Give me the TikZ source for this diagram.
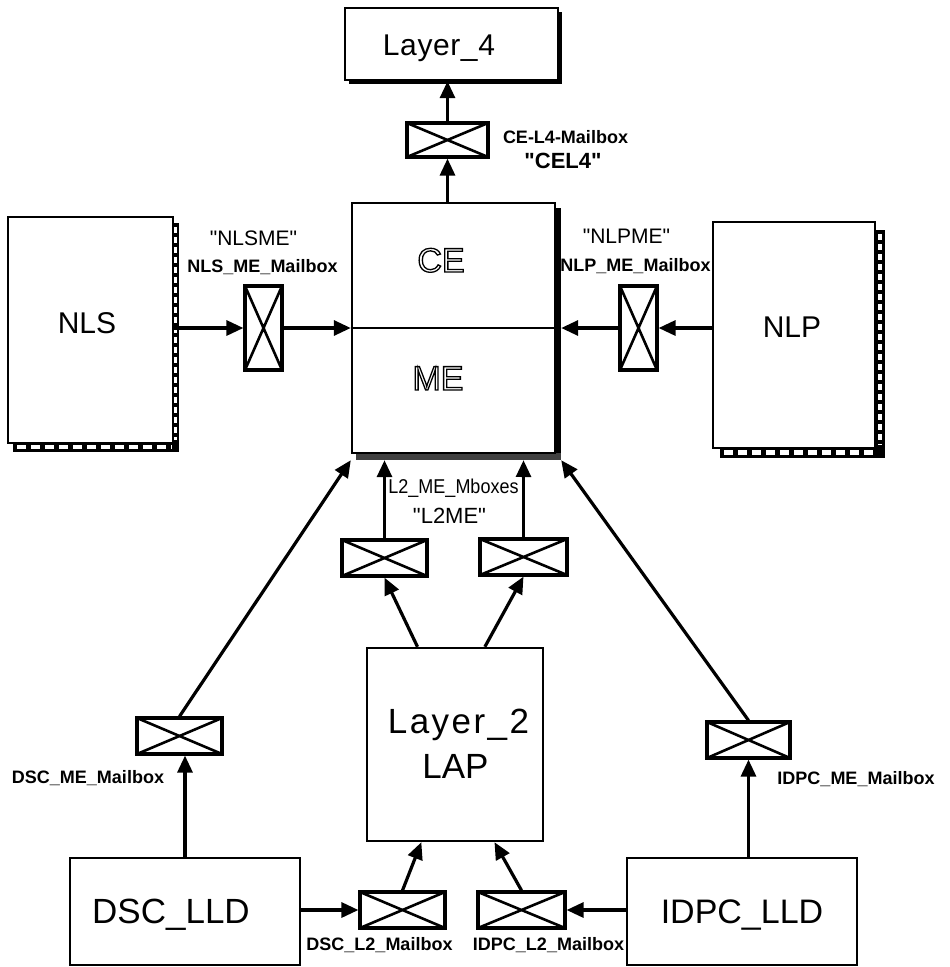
\documentclass[tikz,border=0pt]{standalone}
\usepackage{fontspec}
\setmainfont{Liberation Sans}[Ligatures=TeXOff]
\newfontfamily\lblfont{Liberation Sans}[Ligatures=TeXOff]
\newfontfamily\narrfont{Liberation Sans}[FakeStretch=0.9, Ligatures=TeXOff]
\newfontfamily\layfourfont{Liberation Sans}[LetterSpace=2]
\newfontfamily\laytwofont{Liberation Sans}[LetterSpace=7]
\usetikzlibrary{arrows.meta}
\tikzset{
  box/.style={draw, line width=2.4pt, fill=white, inner sep=0pt},
  mbox/.style={draw, line width=3.2pt, fill=white, inner sep=0pt,
    minimum width=85pt, minimum height=36pt,
    path picture={\draw[line width=2.6pt]
      (path picture bounding box.north west) -- (path picture bounding box.south east)
      (path picture bounding box.south west) -- (path picture bounding box.north east);}},
  vmbox/.style={mbox, minimum width=37pt, minimum height=84pt},
  arr/.style={line width=3.2pt, -{Triangle[length=17pt,width=15pt]}},
  bigtxt/.style={anchor=base, inner sep=0pt, font=\fontsize{32}{36}\selectfont},
  lbl/.style={anchor=base, inner sep=0pt, font=\lblfont\bfseries\fontsize{18}{20}\selectfont},
  quot/.style={anchor=base, inner sep=0pt, font=\fontsize{21}{24}\selectfont},
  shadowfill/.style={fill=black},
  hatch/.style={draw=white, line width=2.2pt, dash pattern=on 6pt off 4pt},
}
\newcommand{\outlined}[1]{\special{pdf:literal direct 2 Tr 1.3 w 1 g 0 G}#1\special{pdf:literal direct 0 Tr 0 g 0 G}}
\begin{document}
\begin{tikzpicture}[x=1pt,y=-1pt]
\useasboundingbox (0,0) rectangle (950,967);

% ---- shadows ----
\fill[shadowfill] (557,12) rectangle (562,84);
\fill[shadowfill] (349,79) rectangle (562,84);
\fill[shadowfill] (554,208) rectangle (561,460);
\node[fill=black!75, inner sep=0pt, minimum width=205pt, minimum height=7pt] (band) at (458.5,456.5) {};
% NLS hatched shadow
\fill[shadowfill] (172,223) rectangle (179,452);
\fill[shadowfill] (13,442) rectangle (179,452);
\draw[hatch] (175.5,227) -- (175.5,440);
\draw[hatch, line width=4pt, dash pattern=on 9pt off 5pt] (17,447) -- (172,447);
% NLP hatched shadow
\fill[shadowfill] (874,230) rectangle (885,458);
\fill[shadowfill] (720,447) rectangle (885,458);
\draw[hatch, line width=4pt] (879.5,234) -- (879.5,445);
\draw[hatch, line width=4.5pt, dash pattern=on 9pt off 5pt] (724,452.5) -- (877,452.5);

% ---- boxes ----
\node[box, minimum width=213pt, minimum height=72pt] (layer4) at (451.5,44) {};
\node[box, minimum width=203pt, minimum height=250pt] (ceme) at (453.5,328) {};
\draw[line width=2.4pt] (ceme.west) -- (ceme.east);
\node[box, minimum width=165pt, minimum height=226pt] (nls) at (90.5,330) {};
\node[box, minimum width=162pt, minimum height=226pt] (nlp) at (794,335) {};
\node[box, minimum width=176pt, minimum height=193pt] (layer2) at (455,744.5) {};
\node[box, minimum width=230pt, minimum height=107pt] (dsc) at (185,911.5) {};
\node[box, minimum width=230pt, minimum height=107pt] (idpc) at (742,911.5) {};

% ---- mailboxes ----
\node[mbox, minimum width=81pt, minimum height=34pt] (cel4) at (447.5,140) {};
\node[vmbox] (nlsme) at (263.5,328) {};
\node[vmbox] (nlpme) at (638.5,328) {};
\node[mbox] (l2a) at (384.5,558) {};
\node[mbox, minimum width=87pt] (l2b) at (523.5,557) {};
\node[mbox] (dscme) at (179.5,736) {};
\node[mbox, minimum width=83pt] (idpcme) at (748.5,740) {};
\node[mbox] (dscl2) at (402.5,910) {};
\node[mbox, minimum width=87pt] (idpcl2) at (521.5,910) {};

% ---- texts ----
\node[bigtxt, font=\layfourfont\fontsize{30}{34}\selectfont] (t4) at (439,55) {Layer\_4};
\node[bigtxt, font=\fontsize{34}{38}\selectfont] (tce) at (441,272) {\outlined{CE}};
\node[bigtxt, font=\fontsize{34}{38}\selectfont] (tme) at (438,390) {\outlined{ME}};
\node[bigtxt, font=\fontsize{30}{34}\selectfont] (tnls) at (87,333) {NLS};
\node[bigtxt, font=\fontsize{30}{34}\selectfont] (tnlp) at (792,337) {NLP};
\node[bigtxt, font=\laytwofont\fontsize{35}{38}\selectfont] (tl2) at (458.5,733) {Layer\_2};
\node[bigtxt, font=\fontsize{35}{38}\selectfont] (tlap) at (455.5,778) {LAP};
\node[bigtxt, font=\fontsize{35}{38}\selectfont] (tdsc) at (171,923) {DSC\_LLD};
\node[bigtxt, font=\fontsize{34}{38}\selectfont] (tidpc) at (742,923) {IDPC\_LLD};

\node[lbl] (lcel4) at (565.5,143) {CE-L4-Mailbox};
\node[quot, font=\lblfont\bfseries\fontsize{22}{24}\selectfont] (qcel4) at (563,168) {"CEL4"};
\node[quot] (qnls) at (253.5,245) {"NLSME"};
\node[lbl] (lnls) at (262.5,272) {NLS\_ME\_Mailbox};
\node[quot] (qnlp) at (626.5,243) {"NLPME"};
\node[lbl] (lnlp) at (635.5,271) {NLP\_ME\_Mailbox};
\node[lbl] (ldscme) at (88,783) {DSC\_ME\_Mailbox};
\node[lbl] (lidpcme) at (856,784) {IDPC\_ME\_Mailbox};
\node[lbl] (ldscl2) at (379.5,950) {DSC\_L2\_Mailbox};
\node[lbl] (lidpcl2) at (548.5,950) {IDPC\_L2\_Mailbox};

% ---- connectors ----
\draw[arr] (cel4.north) -- (cel4.north |- layer4.south);
\draw[arr] (cel4.south |- ceme.north) -- (cel4.south);
\draw[arr] (nls.east |- nlsme.west) -- (nlsme.west);
\draw[arr] (nlsme.east) -- (nlsme.east -| ceme.west);
\draw[arr] (nlp.west |- nlpme.east) -- (nlpme.east);
\draw[arr] (nlpme.west) -- (nlpme.west -| band.east);
\draw[arr] (l2b.north) -- (l2b.north |- band.south);
\node[anchor=base, fill=white, inner xsep=2pt, inner ysep=2pt, font=\narrfont\fontsize{20}{22}\selectfont] (ll2) at (453.5,493) {L2\_ME\_Mboxes};
\node[quot, font=\fontsize{22}{24}\selectfont] (ql2) at (449.5,523) {"L2ME"};
\draw[arr] (l2a.north) -- (l2a.north |- band.south);
\draw[arr] (layer2.111.5) -- (l2a.south);
\draw[arr] (layer2.73.3) -- (l2b.south);
\draw[arr] (dscl2.north) -- (layer2.251.1);
\draw[arr] (idpcl2.north) -- (layer2.292.5);
\draw[arr] (dsc.east |- dscl2.west) -- (dscl2.west);
\draw[arr] (idpc.west |- idpcl2.east) -- (idpcl2.east);
\draw[arr] (dsc.north) -- (dsc.north |- dscme.south);
\draw[arr] (dscme.north) -- (ceme.south west |- band.south);
\draw[arr] (idpcme.south |- idpc.north) -- (idpcme.south);
\draw[arr] (idpcme.north) -- (band.south east);
\end{tikzpicture}
\end{document}
